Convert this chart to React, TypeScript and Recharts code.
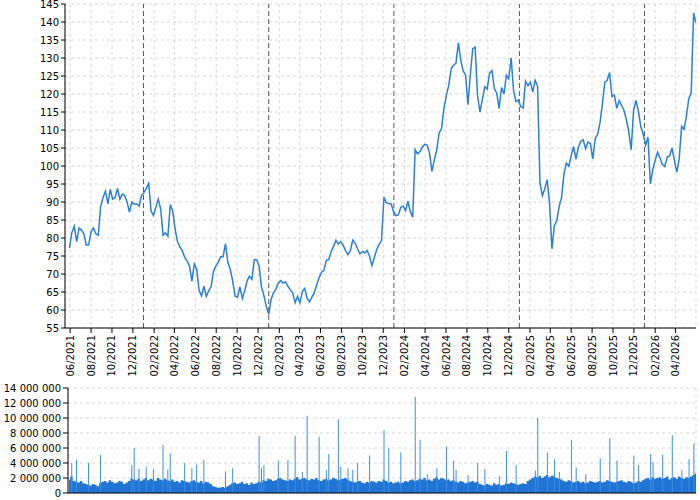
import React from 'react';
import {
  LineChart,
  Line,
  XAxis,
  YAxis,
  CartesianGrid,
  ReferenceLine,
  ComposedChart,
  Area,
  Bar,
} from 'recharts';

const DAY = 86400000;
const firstWeek = Date.UTC(2021, 4, 30);
const priceStart = Date.UTC(2021, 4, 17);
const volumeStart = Date.UTC(2021, 4, 27);
const axisEnd = Date.UTC(2026, 4, 31);

// weekly closing prices
const priceValues = [
  77.2, 81.5, 83.3, 79.0, 82.8, 82.2, 81.2, 78.0, 78.1, 81.7,
  82.8, 81.2, 80.8, 88.8, 91.3, 93.0, 89.5, 93.5, 90.8, 91.2,
  93.8, 90.8, 92.2, 91.8, 90.0, 87.2, 90.0, 89.4, 89.5, 88.8,
  91.8, 92.6, 93.8, 95.2, 87.5, 86.3, 88.5, 90.8, 88.0, 80.8,
  81.4, 80.5, 89.3, 87.5, 82.5, 79.0, 77.5, 76.5, 74.6, 73.6,
  72.2, 68.0, 72.8,
  71.3, 65.5, 63.9, 66.6, 63.8, 65.3, 66.5, 70.8, 72.2, 73.3,
  74.8, 74.8, 78.4, 73.2, 71.3, 68.0, 63.9, 63.5, 66.4, 63.2,
  65.3, 68.1, 69.4, 68.5, 74.0, 73.9, 72.2, 66.4, 64.0, 61.0,
  58.8, 63.0, 64.8, 65.8, 67.5, 68.2, 67.5, 67.8, 66.6, 65.6,
  64.7, 62.0, 63.8, 62.0, 65.1, 66.0, 63.2, 62.3, 63.6, 64.8,
  67.0, 69.0,
  70.5, 71.0, 73.8, 74.0, 76.2, 77.6, 79.4, 78.3, 79.0, 78.0,
  76.5, 75.4, 76.4, 79.4, 78.6, 77.0, 75.6, 76.2, 75.9, 76.5,
  75.0, 72.3, 74.5, 76.8, 78.2, 79.3, 91.3, 89.8, 89.6, 89.5,
  87.3, 86.2, 86.4, 88.5, 88.9, 87.6, 90.2, 87.3, 85.8, 104.5,
  103.4, 104.0, 105.2, 106.0, 105.8, 103.6, 98.5, 101.7, 104.5, 109.2,
  110.4, 116.0,
  119.6, 122.4, 127.0, 128.0, 128.5, 134.2, 129.5, 126.4, 125.3, 117.0,
  125.5, 132.6, 133.0, 119.5, 115.0, 118.5, 122.0, 121.4, 125.8, 126.5,
  121.5, 120.2, 116.0, 121.8, 120.0, 125.2, 124.2, 130.0, 121.0, 117.9,
  118.3, 116.5, 116.1, 123.6, 122.3, 123.3, 120.6, 123.8, 122.2, 95.3,
  91.8, 93.7, 96.2, 89.5, 77.0, 83.5, 84.8, 88.8, 91.3, 97.8,
  100.8, 99.9,
  102.8, 105.4, 101.9, 105.2, 106.8, 107.3, 104.8, 106.7, 106.2, 102.0,
  107.6, 108.8, 112.0, 117.2, 123.3, 123.8, 126.0, 119.3, 119.7, 116.0,
  118.2, 116.8, 115.5, 112.9, 109.5, 104.5, 115.5, 118.2, 115.3, 110.9,
  108.8, 105.8, 108.0, 95.0, 99.0, 101.6, 103.8, 102.2, 100.4, 99.8,
  102.5, 102.8, 105.0, 101.6, 98.3, 102.0, 111.0, 110.2, 113.8, 118.7,
  120.3, 142.5, 139.7,
];

// weekly typical volume, millions of shares
const volumeBase = [
  1.8, 2.2, 1.6, 1.5, 1.4, 1.6, 1.3, 1.2,
  1.1, 1.0, 1.2, 1.1, 0.9, 1.3,
  1.5, 1.6, 1.4, 1.7, 1.5, 1.3, 1.4, 1.6, 1.5, 1.2, 1.4, 1.6, 1.9,
  1.8, 1.7, 1.9, 1.6, 1.8, 2.0, 1.7, 1.9, 1.8, 1.6, 2.0, 1.8, 1.7, 1.9,
  1.7, 1.6, 1.8, 1.5, 1.6, 1.4, 1.7,
  1.6, 1.5, 1.4, 1.6, 1.7, 1.5, 1.4, 1.6, 1.3, 1.5, 1.4, 1.2,
  0.9, 0.8, 0.7, 0.75, 0.8, 0.7, 0.9, 1.1,
  1.3, 1.4, 1.2, 1.3, 1.5, 1.2, 1.3, 1.1, 1.4, 1.2, 1.3, 1.5, 1.4,
  1.7, 1.6, 1.9, 1.8, 1.6, 1.7, 1.9, 2.0, 1.8, 1.7, 1.6, 1.8, 1.7, 1.9, 2.1, 1.8,
  1.9, 2.0, 1.8, 1.7, 1.9, 1.8, 2.0, 1.7, 1.6, 1.8, 1.9, 1.7, 1.8, 2.0, 1.9, 1.7, 1.8, 1.9, 2.0, 1.8,
  1.6, 1.5, 1.4, 1.5, 1.6, 1.4, 1.3, 1.5, 1.4, 1.6, 1.5, 1.4, 1.6, 1.5, 1.8, 1.6, 1.4, 1.5, 1.3,
  1.4, 1.5, 1.3, 1.4, 1.6, 1.5, 1.7, 1.8, 1.6, 1.7, 1.9, 1.8, 2.0, 1.7, 1.8, 1.6,
  1.9, 2.1, 1.8, 2.0, 1.9, 1.7, 1.8, 1.6, 1.7,
  1.5, 1.4, 1.6, 1.5, 1.3, 1.4, 1.5, 1.6, 1.4, 1.5,
  1.2, 1.1, 1.0, 1.2, 1.1, 1.0, 1.3, 1.1, 1.2, 1.0, 1.1, 1.3, 1.2, 1.4, 1.3, 1.2, 1.1, 1.2, 1.3, 1.2,
  1.6, 1.8, 2.0, 2.2, 2.1, 2.3, 2.0, 2.2, 2.4, 2.1, 2.3, 2.2, 2.0, 1.9, 1.8,
  1.6, 1.5, 1.7, 1.6, 1.4, 1.5, 1.6, 1.4, 1.5, 1.3, 1.4, 1.6, 1.5, 1.4, 1.5, 1.6, 1.4, 1.5, 1.7,
  1.6, 1.5, 1.4, 1.5, 1.6, 1.7, 1.5, 1.4, 1.6, 1.5, 1.3, 1.4, 1.6, 1.5, 1.7, 1.9, 2.0, 1.8, 2.1, 1.9, 2.0,
  2.1, 1.9, 2.0, 2.2, 1.8, 2.0, 2.1, 1.9, 2.2, 2.0, 1.9, 2.1, 2.0, 2.2, 2.4, 2.6,
];

// single-session volume spikes: week index and millions of shares
const spikeWeeks = [
  1, 3, 8, 13, 26, 27, 29, 32, 35, 39, 41, 42, 48, 51, 53, 56, 65, 68, 79, 80,
  81, 87, 91, 94, 97, 99, 104, 107, 108, 112, 113, 116, 118, 120, 125, 131, 133, 138, 144, 146,
  149, 153, 157, 160, 161, 166, 170, 173, 179, 182, 186, 194, 195, 199, 202, 204, 209, 211, 215, 221,
  225, 228, 235, 237, 242, 243, 247, 251, 255, 258, 260,
];
const spikeValues = [
  4.0, 4.4, 4.0, 5.1, 3.7, 6.0, 3.2, 3.5, 3.2, 6.4, 3.1, 5.3, 4.0, 3.3, 3.8, 4.4, 2.9, 3.3, 7.6, 3.3,
  3.7, 4.3, 4.4, 7.6, 2.8, 10.3, 7.5, 3.1, 5.2, 9.8, 3.5, 3.3, 3.1, 4.0, 5.0, 8.4, 6.0, 5.4, 12.8, 7.1,
  2.5, 3.3, 6.2, 4.3, 3.1, 2.4, 4.0, 3.2, 2.3, 5.6, 3.75, 3.0, 10.0, 5.4, 4.5, 2.8, 7.1, 3.4, 2.5, 4.6,
  7.3, 4.3, 5.0, 3.75, 5.2, 4.1, 5.1, 7.7, 3.1, 4.5, 6.6,
];

const monthTicks = [
  '2021-06', '2021-08', '2021-10', '2021-12', '2022-02', '2022-04', '2022-06', '2022-08',
  '2022-10', '2022-12', '2023-02', '2023-04', '2023-06', '2023-08', '2023-10', '2023-12',
  '2024-02', '2024-04', '2024-06', '2024-08', '2024-10', '2024-12', '2025-02', '2025-04',
  '2025-06', '2025-08', '2025-10', '2025-12', '2026-02', '2026-04',
];
const yearStarts = ['2022-01', '2023-01', '2024-01', '2025-01', '2026-01'];
const priceTicks = [55, 60, 65, 70, 75, 80, 85, 90, 95, 100, 105, 110, 115, 120, 125, 130, 135, 140, 145];
const volumeTicks = [0, 2000000, 4000000, 6000000, 8000000, 10000000, 12000000, 14000000];

const toTime = (s: string) => {
  const [y, m] = s.split('-').map(Number);
  return Date.UTC(y, m - 1, 1);
};
const monthTickTimes = monthTicks.map(toTime);
const yearTimes = yearStarts.map(toTime);

const priceRows = priceValues.map((v, i) => ({ t: firstWeek + i * 7 * DAY, price: v }));
const volumeRows: { t: number; vol: number; spike?: number }[] = volumeBase.map((v, i) => ({
  t: firstWeek + i * 7 * DAY,
  vol: v * 1e6,
}));
spikeWeeks.forEach((w, k) => {
  if (volumeRows[w]) volumeRows[w].spike = spikeValues[k] * 1e6;
});

const FONT = 'DejaVu Sans';

const fmtMonth = (t: number) => {
  const d = new Date(t);
  const m = d.getUTCMonth() + 1;
  return `${m < 10 ? '0' : ''}${m}/${d.getUTCFullYear()}`;
};
const fmtVol = (v: number) => String(v).replace(/\B(?=(\d{3})+(?!\d))/g, ' ');

const XTick = (props: any) => {
  const { x, y, payload } = props;
  return (
    <g transform={`translate(${x},${y})`}>
      <text
        transform="rotate(-90)"
        x={0}
        y={0}
        dy="0.35em"
        textAnchor="end"
        fontSize={10}
        fontFamily={FONT}
        fill="#000"
      >
        {fmtMonth(payload.value)}
      </text>
    </g>
  );
};

const VolTick = (props: any) => {
  const { x, y, payload } = props;
  return (
    <text
      x={x}
      y={y}
      dy="0.35em"
      textAnchor="end"
      fontSize={10}
      fontFamily={FONT}
      fill="#000"
      style={{ whiteSpace: 'pre' }}
    >
      {fmtVol(payload.value)}
    </text>
  );
};

export default function App() {
  return (
    <div style={{ position: 'absolute', left: 0, top: 0, width: 700, height: 500, background: '#fff' }}>
      <div style={{ position: 'absolute', left: 0, top: 0 }}>
        <LineChart width={700} height={380} data={priceRows} margin={{ top: 4, right: 4, left: 0, bottom: 0 }}>
          <CartesianGrid stroke="#d9d9d9" strokeDasharray="3 3" />
          <XAxis
            dataKey="t"
            type="number"
            domain={[priceStart, axisEnd]}
            allowDataOverflow
            ticks={monthTickTimes}
            interval={0}
            tick={<XTick />}
            tickSize={5}
            height={52}
            stroke="#000"
          />
          <YAxis
            domain={[55, 145]}
            ticks={priceTicks}
            interval={0}
            allowDataOverflow
            width={65}
            tickSize={4}
            tick={{ fontSize: 10, fill: '#000', fontFamily: FONT }}
            stroke="#000"
          />
          {yearTimes.map((t) => (
            <ReferenceLine key={t} x={t} stroke="#555" strokeDasharray="5 3" strokeWidth={1} />
          ))}
          <Line
            dataKey="price"
            stroke="#2b7fd8"
            strokeWidth={1.5}
            dot={false}
            isAnimationActive={false}
          />
        </LineChart>
      </div>
      <div style={{ position: 'absolute', left: 0, top: 380 }}>
        <ComposedChart width={700} height={120} data={volumeRows} margin={{ top: 8, right: 4, left: 0, bottom: 0 }}>
          <CartesianGrid stroke="#d9d9d9" strokeDasharray="3 3" />
          <XAxis
            dataKey="t"
            type="number"
            domain={[volumeStart, axisEnd]}
            allowDataOverflow
            ticks={monthTickTimes}
            interval={0}
            tick={false}
            tickLine={false}
            height={7}
            stroke="#000"
          />
          <YAxis
            domain={[0, 14000000]}
            ticks={volumeTicks}
            interval={0}
            width={68}
            tickSize={5}
            tick={<VolTick />}
            stroke="#000"
          />
          <Area
            type="step"
            dataKey="vol"
            stroke="none"
            fill="#1f74d4"
            fillOpacity={1}
            isAnimationActive={false}
          />
          <Bar dataKey="spike" fill="#3f8de0" barSize={1} isAnimationActive={false} />
        </ComposedChart>
      </div>
    </div>
  );
}
